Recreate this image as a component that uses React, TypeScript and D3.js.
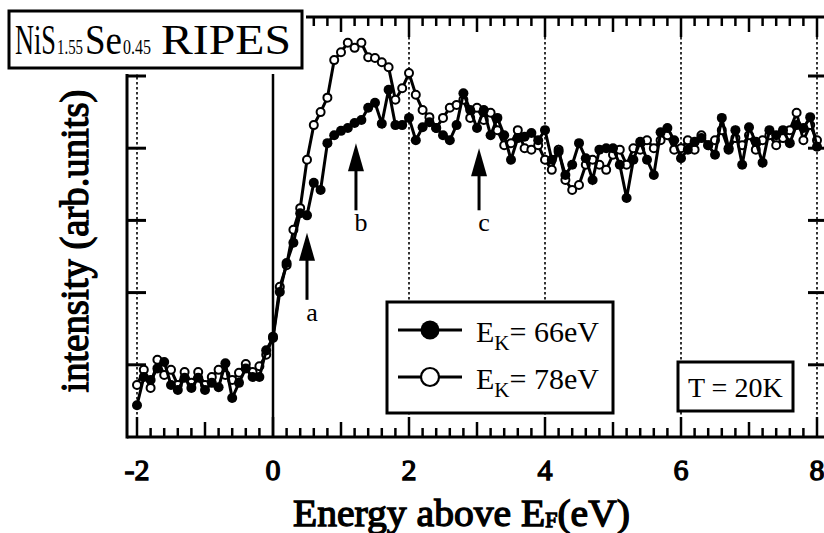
import React from "react";
import * as d3 from "d3";

// photon energy above E_F (eV)
const energies = [
  -2.0, -1.9, -1.8, -1.7, -1.6, -1.5, -1.4, -1.3, -1.2, -1.1, -1.0, -0.9, -0.8,
  -0.7, -0.6, -0.5, -0.4, -0.3, -0.2, -0.1, 0.0, 0.1, 0.2, 0.3, 0.4, 0.5, 0.6,
  0.7, 0.8, 0.9, 1.0, 1.1, 1.2, 1.3, 1.4, 1.5, 1.6, 1.7, 1.8, 1.9, 2.0, 2.1,
  2.2, 2.3, 2.4, 2.5, 2.6, 2.7, 2.8, 2.9, 3.0, 3.1, 3.2, 3.3, 3.4, 3.5, 3.6,
  3.7, 3.8, 3.9, 4.0, 4.1, 4.2, 4.3, 4.4, 4.5, 4.6, 4.7, 4.8, 4.9, 5.0, 5.1,
  5.2, 5.3, 5.4, 5.5, 5.6, 5.7, 5.8, 5.9, 6.0, 6.1, 6.2, 6.3, 6.4, 6.5, 6.6,
  6.7, 6.8, 6.9, 7.0, 7.1, 7.2, 7.3, 7.4, 7.5, 7.6, 7.7, 7.8, 7.9, 8.0,
];

// E_K = 66 eV (filled circles)
const intensity66 = [
  4.4, 8.3, 7.9, 9.5, 10.4, 7.2, 6.5, 8.2, 6.8, 8.2, 6.5, 7.5, 6.9, 10.2, 5.4,
  7.5, 9.5, 8.3, 8.3, 12.0, 13.7, 20.1, 24.1, 26.9, 31.0, 30.7, 35.2, 34.2,
  40.7, 41.8, 42.4, 42.8, 43.5, 43.9, 45.6, 46.3, 43.4, 48.1, 43.2, 43.2, 44.2,
  41.1, 42.9, 43.6, 42.8, 41.8, 41.1, 43.2, 47.6, 45.3, 42.8, 45.3, 41.8, 44.2,
  41.8, 38.4, 41.4, 41.6, 42.1, 41.1, 42.5, 38.4, 39.5, 36.3, 37.7, 40.7, 38.6,
  35.6, 39.8, 40.0, 40.0, 37.7, 33.1, 38.4, 40.9, 38.4, 36.3, 42.2, 42.8, 41.1,
  38.6, 39.8, 40.9, 41.4, 40.4, 39.1, 44.2, 40.0, 42.5, 37.7, 42.9, 40.9, 38.0,
  42.5, 41.8, 42.5, 40.7, 43.2, 42.8, 44.3, 40.2,
];

// E_K = 78 eV (open circles)
const intensity78 = [
  7.2, 9.3, 6.8, 10.7, 8.6, 9.3, 7.2, 9.0, 7.5, 9.0, 7.2, 8.3, 9.3, 8.6, 7.9,
  8.9, 10.1, 9.0, 9.8, 11.4, 13.9, 20.8, 23.8, 28.7, 31.7, 38.4, 43.2, 45.0,
  47.0, 52.2, 53.3, 54.6, 53.9, 54.6, 52.6, 52.5, 51.9, 51.2, 46.7, 48.3, 50.4,
  47.4, 45.3, 44.3, 42.8, 44.2, 45.6, 46.0, 46.7, 44.2, 45.6, 43.9, 44.9, 42.5,
  40.4, 40.7, 42.5, 40.0, 39.8, 40.4, 38.4, 37.0, 39.8, 35.6, 34.2, 34.9, 37.7,
  38.4, 37.7, 37.0, 39.1, 39.8, 37.7, 40.0, 39.8, 41.1, 40.0, 41.1, 41.8, 39.8,
  40.0, 41.1, 39.8, 41.8, 40.4, 41.1, 42.5, 39.8, 41.4, 40.4, 41.8, 39.8, 41.1,
  41.8, 40.4, 41.4, 42.5, 44.9, 41.1, 43.2, 41.1,
];

const xTickLabels = [-2, 0, 2, 4, 6, 8];
const dottedGrid = [-2, 2, 4, 6, 8];
const yTickValues = [10, 20, 30, 40, 50];

// feature arrows: energy, tip intensity, tail intensity
const arrowLabels = ["a", "b", "c"];
const arrowEnergies = [0.5, 1.22, 3.03];
const arrowTips = [28.3, 40.7, 40.0];
const arrowTails = [19.0, 31.4, 31.4];

const serif = "'Liberation Serif', 'Times New Roman', serif";
// bold serif face is not available, so thicken the regular one
const boldish = { stroke: "#000", strokeWidth: 1.3, paintOrder: "stroke" } as const;

export default function App() {
  const width = 824;
  const height = 533;
  const x = d3.scaleLinear().domain([-2, 8]).range([137, 817]);
  const y = d3.scaleLinear().domain([0, 50]).range([437, 76]);

  const left = 127;
  const right = 824;
  const top = 17;
  const bottom = 437;

  const s66 = energies.map((e, i) => ({ e, v: intensity66[i] }));
  const s78 = energies.map((e, i) => ({ e, v: intensity78[i] }));
  const line = d3
    .line<{ e: number; v: number }>()
    .x((d) => x(d.e))
    .y((d) => y(d.v));

  const minorTicks = x.ticks(50).filter((t) => x(t) > left + 1);

  return (
    <svg
      width={width}
      height={height}
      style={{ position: "absolute", left: 0, top: 0, background: "#fff" }}
      fontFamily={serif}
    >
      <rect width={width} height={height} fill="#fff" />

      {/* dotted grid */}
      {dottedGrid.map((g) => (
        <line
          key={g}
          x1={x(g)}
          x2={x(g)}
          y1={top}
          y2={bottom}
          stroke="#000"
          strokeWidth={1.6}
          strokeDasharray="2.5,2.5"
        />
      ))}
      {/* E_F line */}
      <line x1={x(0)} x2={x(0)} y1={top} y2={bottom} stroke="#000" strokeWidth={2.5} />

      {/* frame */}
      <line x1={left} x2={right} y1={bottom} y2={bottom} stroke="#000" strokeWidth={3} />
      <line x1={left} x2={right} y1={top} y2={top} stroke="#000" strokeWidth={3} />
      <line x1={left} x2={left} y1={top} y2={bottom + 1.5} stroke="#000" strokeWidth={3} />

      {minorTicks.map((t) => {
        const r = Math.round(t * 10) / 10;
        const len = r % 2 === 0 ? 20 : Number.isInteger(r) ? 15 : 9;
        return (
          <g key={t}>
            <line x1={x(t)} x2={x(t)} y1={bottom} y2={bottom - len} stroke="#000" strokeWidth={2.5} />
            <line x1={x(t)} x2={x(t)} y1={top} y2={top + len} stroke="#000" strokeWidth={2.5} />
          </g>
        );
      })}
      {yTickValues.map((v) => (
        <g key={v}>
          <line x1={left} x2={left + 19} y1={y(v)} y2={y(v)} stroke="#000" strokeWidth={3} />
          <line x1={right - 16} x2={right} y1={y(v)} y2={y(v)} stroke="#000" strokeWidth={3} />
        </g>
      ))}

      {/* data */}
      <path d={line(s78) ?? ""} fill="none" stroke="#000" strokeWidth={3} />
      {s78.map((d, i) => (
        <circle key={i} cx={x(d.e)} cy={y(d.v)} r={4} fill="#fff" stroke="#000" strokeWidth={2} />
      ))}
      <path d={line(s66) ?? ""} fill="none" stroke="#000" strokeWidth={3} />
      {s66.map((d, i) => (
        <circle key={i} cx={x(d.e)} cy={y(d.v)} r={5} fill="#000" />
      ))}

      {/* arrows */}
      {arrowLabels.map((lab, i) => {
        const ax = x(arrowEnergies[i]);
        const tipY = y(arrowTips[i]);
        const tailY = y(arrowTails[i]);
        return (
          <g key={lab}>
            <line x1={ax} x2={ax} y1={tipY + 20} y2={tailY} stroke="#000" strokeWidth={3} />
            <path d={`M${ax},${tipY} L${ax - 8},${tipY + 28} L${ax + 8},${tipY + 28} Z`} fill="#000" />
            <text x={ax + 5} y={tailY + 21} fontSize={26} textAnchor="middle">
              {lab}
            </text>
          </g>
        );
      })}

      {/* mask + title */}
      <rect x={0} y={0} width={306} height={74} fill="#fff" />
      <rect x={9} y={11} width={293} height={57} fill="#fff" stroke="#000" strokeWidth={3} />
      <text x={15} y={54} fontSize={42} textLength={41} lengthAdjust="spacingAndGlyphs">NiS</text>
      <text x={57} y={54} fontSize={21} textLength={26} lengthAdjust="spacingAndGlyphs">1.55</text>
      <text x={85} y={54} fontSize={42} textLength={37} lengthAdjust="spacingAndGlyphs">Se</text>
      <text x={123} y={54} fontSize={21} textLength={28} lengthAdjust="spacingAndGlyphs">0.45</text>
      <text x={161} y={54} fontSize={42} textLength={130} lengthAdjust="spacingAndGlyphs">RIPES</text>

      {/* legend */}
      <rect x={387} y={302} width={226} height={111} fill="#fff" stroke="#000" strokeWidth={3} />
      <line x1={398} x2={462} y1={330} y2={330} stroke="#000" strokeWidth={3} />
      <circle cx={430} cy={330} r={9.5} fill="#000" />
      <text x={476} y={342} fontSize={30}>
        E<tspan dy={8} fontSize={21}>K</tspan>
        <tspan dy={-8}>= 66eV</tspan>
      </text>
      <line x1={398} x2={462} y1={377} y2={377} stroke="#000" strokeWidth={3} />
      <circle cx={430} cy={377} r={9} fill="#fff" stroke="#000" strokeWidth={2.2} />
      <text x={476} y={389} fontSize={30}>
        E<tspan dy={8} fontSize={21}>K</tspan>
        <tspan dy={-8}>= 78eV</tspan>
      </text>

      {/* temperature */}
      <rect x={678} y={362} width={115} height={49} fill="#fff" stroke="#000" strokeWidth={3} />
      <text x={688} y={397} fontSize={28}>
        T = 20K
      </text>

      {/* tick labels */}
      {xTickLabels.map((t) => (
        <text key={t} x={x(t)} y={480} fontSize={30} textAnchor="middle" {...boldish}>
          {t < 0 ? `-${Math.abs(t)}` : t}
        </text>
      ))}

      {/* axis titles */}
      <text x={293} y={526} fontSize={38} textLength={337} lengthAdjust="spacingAndGlyphs" {...boldish}>
        Energy above E<tspan fontSize={21} dy={1}>F</tspan>
        <tspan dy={-1}>(eV)</tspan>
      </text>
      <text
        transform="translate(88,241) rotate(-90)"
        fontSize={39}
        textAnchor="middle"
        textLength={303}
        lengthAdjust="spacingAndGlyphs"
        {...boldish}
      >
        intensity (arb.units)
      </text>
    </svg>
  );
}
